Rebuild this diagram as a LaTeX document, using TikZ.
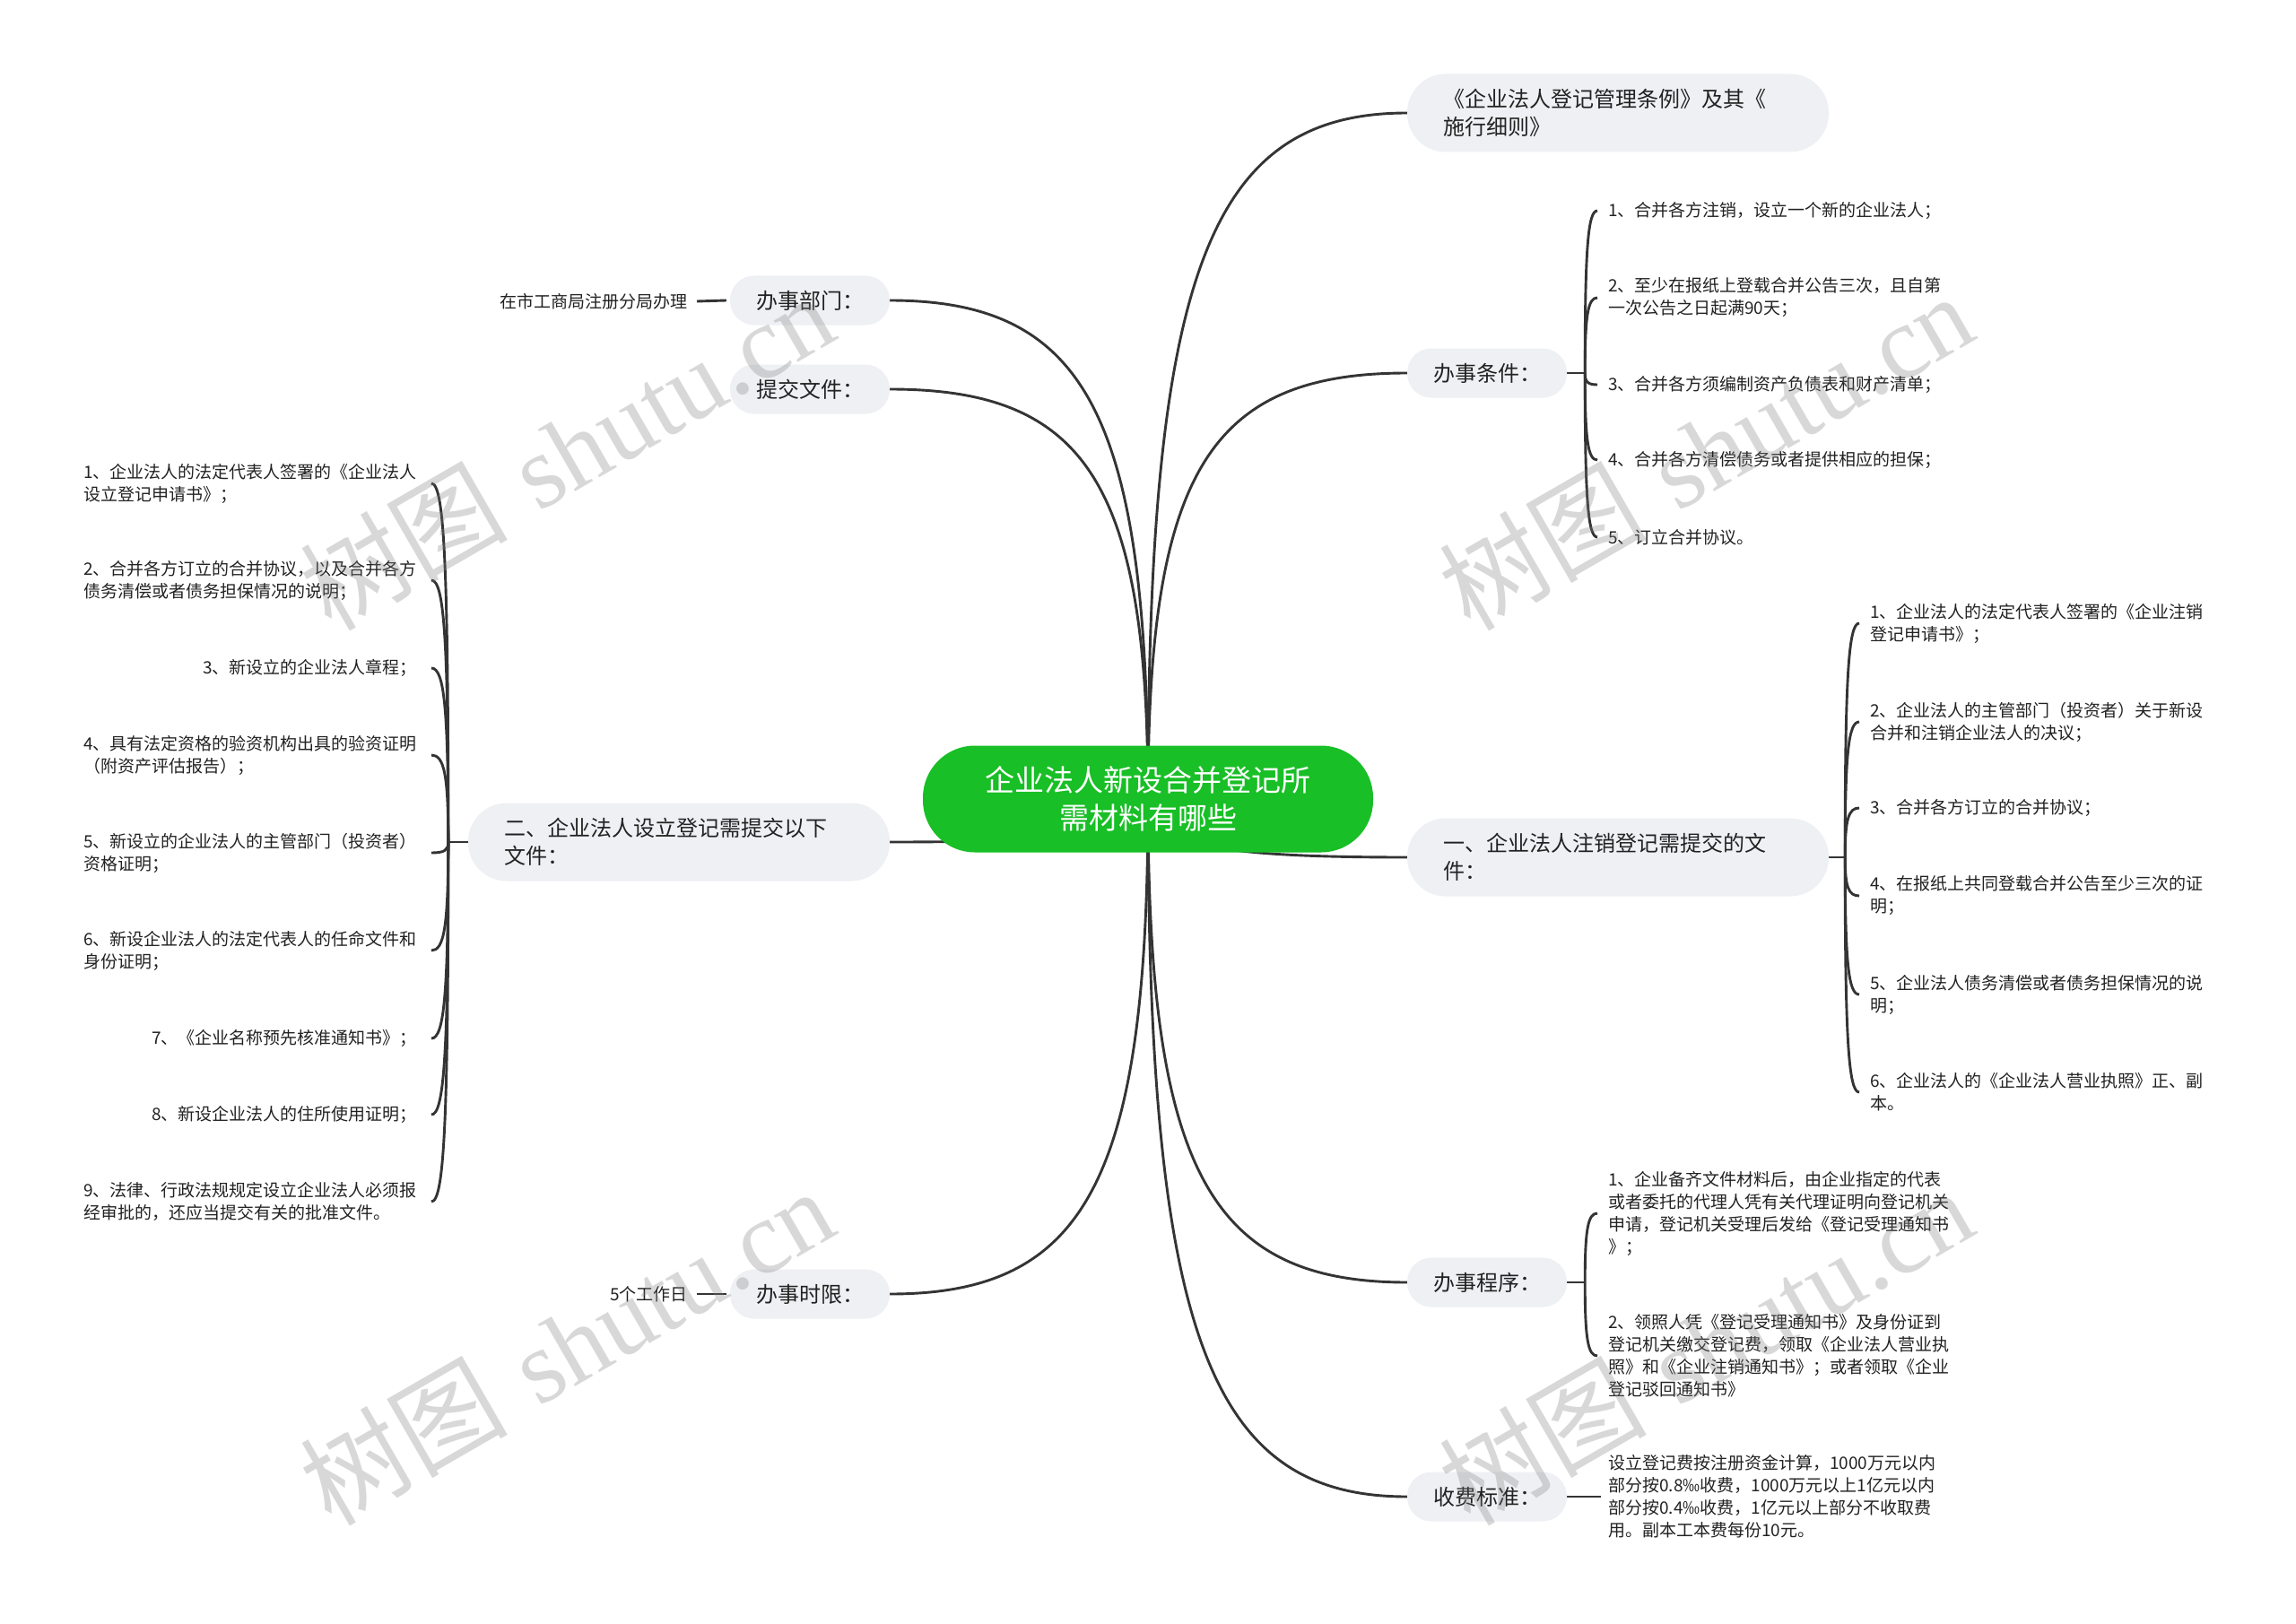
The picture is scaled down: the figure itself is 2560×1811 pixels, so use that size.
\documentclass[tikz,border=0pt]{standalone}
\usepackage{fontspec}
\setmainfont{Noto Sans CJK SC}
\newfontfamily\wmlatin{Liberation Serif}
\usetikzlibrary{calc}
\definecolor{boxgray}{RGB}{238,240,243}
\definecolor{rootgreen}{RGB}{24,191,38}
\definecolor{linegray}{RGB}{52,52,52}
\definecolor{txt}{RGB}{34,34,34}
\pgfdeclarelayer{bg}
\pgfsetlayers{bg,main}
\tikzset{
  rootbox/.style={fill=rootgreen, text=white, rounded corners=58pt, minimum width=502pt, minimum height=119pt, inner sep=0pt, align=center, font=\fontsize{33}{42}\selectfont},
  midbox/.style={fill=boxgray, text=txt, rounded corners=27pt, minimum width=178pt, minimum height=55pt, inner sep=0pt, font=\fontsize{24}{31}\selectfont},
  widebox/.style={fill=boxgray, text=txt, rounded corners=43pt, text width=390pt, inner xsep=40pt, inner ysep=0pt, minimum height=87pt, align=left, font=\fontsize{24}{31}\selectfont},
  leaf/.style={text=txt, inner sep=0pt, align=left, font=\fontsize{19}{25}\selectfont},
  conn/.style={draw=linegray, line width=2.9pt},
  wm/.style={text=gray, opacity=0.3, rotate=30, inner sep=0pt, font=\fontsize{116}{116}\selectfont},
}
\newcommand{\mmlink}[2]{\draw[conn] let \p1=(#1), \p2=(#2) in (\p1) .. controls (\x1,{\y1+0.77*(\y2-\y1)}) and ({\x1+0.24*(\x2-\x1)},\y2) .. (\p2);}
\begin{document}
\begin{tikzpicture}[x=1pt,y=-1pt]
\useasboundingbox (0,0) rectangle (2560,1811);

% root
\node[rootbox] (root) at (1280,891) {企业法人新设合并登记所\\需材料有哪些};

% right main branches
\node[widebox] (law) at (1804,126) {《企业法人登记管理条例》及其《\\施行细则》};
\node[midbox] (cond) at (1658,416) {办事条件：};
\node[widebox] (cancel) at (1804,956) {一、企业法人注销登记需提交的文\\件：};
\node[midbox] (proc) at (1658,1430) {办事程序：};
\node[midbox] (fee) at (1658,1669) {收费标准：};

% left main branches
\node[midbox] (dept) at (903,335) {办事部门：};
\node[midbox] (docs) at (903,434) {提交文件：};
\node[widebox] (setup) at (757,939) {二、企业法人设立登记需提交以下\\文件：};
\node[midbox] (time) at (903,1443) {办事时限：};

% leaves of cond
\node[leaf, anchor=west] (c1) at (1793,235) {1、合并各方注销，设立一个新的企业法人；};
\node[leaf, anchor=west] (c2) at (1793,332) {2、至少在报纸上登载合并公告三次，且自第\\一次公告之日起满90天；};
\node[leaf, anchor=west] (c3) at (1793,429) {3、合并各方须编制资产负债表和财产清单；};
\node[leaf, anchor=west] (c4) at (1793,513) {4、合并各方清偿债务或者提供相应的担保；};
\node[leaf, anchor=west] (c5) at (1793,599) {5、订立合并协议。};

% leaves of cancel
\node[leaf, anchor=west] (k1) at (2085,695) {1、企业法人的法定代表人签署的《企业注销\\登记申请书》；};
\node[leaf, anchor=west] (k2) at (2085,805) {2、企业法人的主管部门（投资者）关于新设\\合并和注销企业法人的决议；};
\node[leaf, anchor=west] (k3) at (2085,901) {3、合并各方订立的合并协议；};
\node[leaf, anchor=west] (k4) at (2085,999) {4、在报纸上共同登载合并公告至少三次的证\\明；};
\node[leaf, anchor=west] (k5) at (2085,1109) {5、企业法人债务清偿或者债务担保情况的说\\明；};
\node[leaf, anchor=west] (k6) at (2085,1218) {6、企业法人的《企业法人营业执照》正、副\\本。};

% leaves of proc
\node[leaf, anchor=west] (p1) at (1793,1353) {1、企业备齐文件材料后，由企业指定的代表\\或者委托的代理人凭有关代理证明向登记机关\\申请，登记机关受理后发给《登记受理通知书\\》；};
\node[leaf, anchor=west] (p2) at (1793,1512) {2、领照人凭《登记受理通知书》及身份证到\\登记机关缴交登记费，领取《企业法人营业执\\照》和《企业注销通知书》；或者领取《企业\\登记驳回通知书》};

% leaf of fee
\node[leaf, anchor=west] (f1) at (1793,1669) {设立登记费按注册资金计算，1000万元以内\\部分按0.8‰收费，1000万元以上1亿元以内\\部分按0.4‰收费，1亿元以上部分不收取费\\用。副本工本费每份10元。};

% leaves of dept / time
\node[leaf, anchor=east] (d1) at (767,336) {在市工商局注册分局办理};
\node[leaf, anchor=east] (t1) at (767,1443) {5个工作日};

% leaves of setup
\node[leaf, anchor=east] (s1) at (465,539) {1、企业法人的法定代表人签署的《企业法人\\设立登记申请书》；};
\node[leaf, anchor=east] (s2) at (465,647) {2、合并各方订立的合并协议，以及合并各方\\债务清偿或者债务担保情况的说明；};
\node[leaf, anchor=east] (s3) at (465,745) {3、新设立的企业法人章程；};
\node[leaf, anchor=east] (s4) at (465,842) {4、具有法定资格的验资机构出具的验资证明\\（附资产评估报告）；};
\node[leaf, anchor=east] (s5) at (465,951) {5、新设立的企业法人的主管部门（投资者）\\资格证明；};
\node[leaf, anchor=east] (s6) at (465,1060) {6、新设企业法人的法定代表人的任命文件和\\身份证明；};
\node[leaf, anchor=east] (s7) at (465,1158) {7、《企业名称预先核准通知书》；};
\node[leaf, anchor=east] (s8) at (465,1243) {8、新设企业法人的住所使用证明；};
\node[leaf, anchor=east] (s9) at (465,1340) {9、法律、行政法规规定设立企业法人必须报\\经审批的，还应当提交有关的批准文件。};

\coordinate (condT) at ($(cond.east)+(20,0)$);
\coordinate (cancelT) at ($(cancel.east)+(18,0)$);
\coordinate (procT) at ($(proc.east)+(20,0)$);
\coordinate (setupT) at ($(setup.west)+(-22,0)$);

\begin{pgfonlayer}{bg}
\fill[white] (0,0) rectangle (2560,1811);
% root connectors
\mmlink{root.center}{law.west}
\mmlink{root.center}{cond.west}
\mmlink{root.center}{cancel.west}
\mmlink{root.center}{proc.west}
\mmlink{root.center}{fee.west}
\mmlink{root.center}{dept.east}
\mmlink{root.center}{docs.east}
\mmlink{root.center}{setup.east}
\mmlink{root.center}{time.east}
% cond bracket
\draw[conn] (cond.east) -- (condT);
\foreach \c in {c1,c2,c3,c4,c5}{\mmlink{condT}{$(\c.west)+(-12,0)$}}
% cancel bracket
\draw[conn] (cancel.east) -- (cancelT);
\foreach \c in {k1,k2,k3,k4,k5,k6}{\mmlink{cancelT}{$(\c.west)+(-12,0)$}}
% proc bracket
\draw[conn] (proc.east) -- (procT);
\foreach \c in {p1,p2}{\mmlink{procT}{$(\c.west)+(-12,0)$}}
% fee
\draw[conn] (fee.east) -- ($(f1.west)+(-8,0)$);
% setup bracket
\draw[conn] (setup.west) -- (setupT);
\foreach \c in {s1,s2,s3,s4,s5,s6,s7,s8,s9}{\mmlink{setupT}{$(\c.east)+(16,0)$}}
% single leaves
\draw[conn] ($(dept.west)+(-4,0)$) -- ($(d1.east)+(10,0)$);
\draw[conn] ($(time.west)+(-4,0)$) -- ($(t1.east)+(10,0)$);
\end{pgfonlayer}

% watermarks
\foreach \wx/\wy in {818/446, 2088/446, 818/1444, 2088/1444}{
  \node[wm, anchor=base east] (wma) at (\wx,\wy) {树图\hspace{0.3em}{\wmlatin shutu}};
  \node[wm, anchor=base west] (wmb) at (\wx,\wy) {{\wmlatin .cn}};
}
\end{tikzpicture}
\end{document}
